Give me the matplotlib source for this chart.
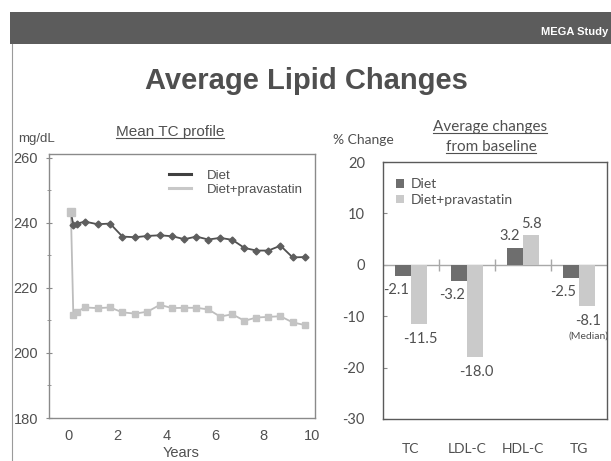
import numpy as np
import matplotlib
matplotlib.use('Agg')
import matplotlib.pyplot as plt
from matplotlib.lines import Line2D
from matplotlib.patches import Rectangle

plt.rcParams['axes.unicode_minus'] = False

# ---------------- data ----------------
years = [0.08, 0.18, 0.33, 0.66, 1.18, 1.69, 2.20, 2.72, 3.23, 3.74, 4.25,
         4.75, 5.24, 5.73, 6.22, 6.72, 7.22, 7.71, 8.20, 8.70, 9.20, 9.70]
tc_diet = [243.4, 239.3, 239.8, 240.4, 239.6, 239.8, 235.8, 235.6, 236.0, 236.2, 235.9,
           235.0, 235.8, 234.9, 235.4, 234.8, 232.3, 231.5, 231.5, 233.0, 229.4, 229.5]
tc_prava = [243.4, 211.7, 212.7, 214.0, 213.8, 214.0, 212.5, 212.1, 212.7, 214.8, 213.8,
            213.9, 213.9, 213.4, 211.2, 211.9, 209.9, 210.9, 211.1, 211.3, 209.4, 208.6]
series_names = ['Diet', 'Diet+pravastatin']
year_ticks = [0, 2, 4, 6, 8, 10]
mg_ticks = [180, 200, 220, 240, 260]

lipids = ['TC', 'LDL-C', 'HDL-C', 'TG']
chg_diet = [-2.1, -3.2, 3.2, -2.5]
chg_prava = [-11.5, -18.0, 5.8, -8.1]
pct_ticks = [-30, -20, -10, 0, 10, 20]

# ---------------- figure ----------------
W, H = 611, 461
fig = plt.figure(figsize=(W / 100, H / 100), dpi=100)
fig.patch.set_facecolor('white')

def fx(px):
    return px / W

def fy(py):
    return 1 - py / H

# banner and slide border
fig.add_artist(Rectangle((fx(10), fy(44)), fx(601), 32 / H, transform=fig.transFigure,
                         facecolor='#5c5c5c', edgecolor='none'))
fig.add_artist(Line2D([fx(11.5), fx(11.5)], [fy(44), 0], transform=fig.transFigure,
                      color='#9a9a9a', lw=0.8))
fig.text(fx(608), fy(32), 'MEGA Study', color='white', fontsize=8, fontweight='bold',
         ha='right', va='center', family='Liberation Sans')

fig.text(fx(306), fy(81), 'Average Lipid Changes', fontsize=21, fontweight='bold',
         color='#4f4f4f', ha='center', va='center', family='Liberation Sans')

DIET_LINE = '#505050'
PRAVA_LINE = '#bdbdbd'

# ---------------- left: mean TC profile ----------------
axL = fig.add_axes([fx(49), fy(418), fx(315 - 49), (418 - 154) / H])
axL.plot(years, tc_prava, color=PRAVA_LINE, lw=1.3, marker='s', ms=4.5,
         mfc='#c4c4c4', mec='#c4c4c4', zorder=2)
axL.plot(years, tc_diet, color=DIET_LINE, lw=1.3, marker='D', ms=3.5,
         mfc='#5e5e5e', mec='#5e5e5e', zorder=3)
axL.plot(years[:1], tc_prava[:1], linestyle='none', marker='s', ms=6,
         mfc='#c4c4c4', mec='#c4c4c4', zorder=4)
axL.set_xlim(-0.82, 10.12)
axL.set_ylim(180, 261.2)
axL.set_xticks(year_ticks)
axL.set_yticks(mg_ticks)
axL.set_yticks(np.arange(190, 260, 20), minor=True)
for s in axL.spines.values():
    s.set_color('#8a8a8a')
    s.set_linewidth(1.0)
axL.tick_params(axis='x', length=0, pad=8, labelsize=10.5, labelcolor='#505050')
axL.tick_params(axis='y', which='major', direction='inout', length=4, color='#8a8a8a',
                pad=6, labelsize=10.5, labelcolor='#505050')
axL.tick_params(axis='y', which='minor', direction='inout', length=3, color='#8a8a8a')
for lab in axL.get_xticklabels() + axL.get_yticklabels():
    lab.set_family('Liberation Sans')
legL = axL.legend([Line2D([], [], color='#404040', lw=2.2), Line2D([], [], color='#c8c8c8', lw=2.2)],
                  series_names, loc='upper right', bbox_to_anchor=(1.0, 0.985), frameon=False,
                  handlelength=1.7, handletextpad=1.2, labelspacing=0.1,
                  prop={'family': 'Liberation Sans', 'size': 9.5})
for t in legL.get_texts():
    t.set_color('#505050')

fig.text(fx(18), fy(139), 'mg/dL', fontsize=9.5, color='#505050', ha='left', va='center',
         family='Liberation Sans')
tL = fig.text(fx(170), fy(132), 'Mean TC profile', fontsize=11, color='#505050',
              ha='center', va='center', family='Liberation Sans')
fig.text(fx(181), fy(453), 'Years', fontsize=10.5, color='#505050', ha='center',
         va='center', family='Liberation Sans')

# ---------------- right: average changes ----------------
axR = fig.add_axes([fx(383), fy(419), fx(607 - 383), (419 - 162) / H])
x = np.arange(len(lipids)) + 0.5
bw = 0.285
DIET_BAR = '#6e6e6e'
PRAVA_BAR = '#cacaca'
bd = axR.bar(x - 0.15, chg_diet, width=bw, color=DIET_BAR, zorder=3, label=series_names[0])
bp = axR.bar(x + 0.15, chg_prava, width=bw, color=PRAVA_BAR, zorder=3, label=series_names[1])
axR.axhline(0, color='#a8a8a8', lw=1.0, zorder=2)
axR.plot(np.arange(1, len(lipids)), np.zeros(len(lipids) - 1), linestyle='none',
         marker='|', ms=8, mew=1.0, color='#a8a8a8', zorder=2)
axR.set_xlim(0, len(lipids))
axR.set_ylim(-30, 20)
axR.set_yticks(pct_ticks)
axR.set_xticks(x)
axR.set_xticklabels(lipids)
for s in axR.spines.values():
    s.set_color('#5a5a5a')
    s.set_linewidth(1.0)
axR.tick_params(axis='x', length=0, pad=17, labelsize=10, labelcolor='#505050')
axR.tick_params(axis='y', direction='in', length=3, color='#8a8a8a', pad=13,
                labelsize=10.5, labelcolor='#505050')
for lab in axR.get_xticklabels() + axR.get_yticklabels():
    lab.set_family('Lato')

lab_font = dict(family='Lato', size=10.5, color='#505050')
for xi, v in zip(x - 0.15, chg_diet):
    if v < 0:
        axR.annotate(f'{v:.1f}', (xi, v), xytext=(-7, -14), textcoords='offset pixels',
                     ha='center', va='center', **lab_font)
    else:
        axR.annotate(f'{v:.1f}', (xi, v), xytext=(-5, 12), textcoords='offset pixels',
                     ha='center', va='center', **lab_font)
for i, (xi, v) in enumerate(zip(x + 0.15, chg_prava)):
    if v < 0:
        axR.annotate(f'{v:.1f}', (xi, v), xytext=(1, -15), textcoords='offset pixels',
                     ha='center', va='center', **lab_font)
    else:
        axR.annotate(f'{v:.1f}', (xi, v), xytext=(0, 11), textcoords='offset pixels',
                     ha='center', va='center', **lab_font)
    if lipids[i] == 'TG':
        axR.annotate('(Median)', (xi, v), xytext=(1, -30), textcoords='offset pixels',
                     ha='center', va='center', family='Lato', size=7.5, color='#505050')

legR = axR.legend(loc='upper left', bbox_to_anchor=(0.0, 0.985), frameon=False,
                  handlelength=0.6, handleheight=0.6, handletextpad=0.5, labelspacing=0.25,
                  prop={'family': 'Lato', 'size': 10})
for t in legR.get_texts():
    t.set_color('#505050')

fig.text(fx(333), fy(140), '% Change', fontsize=10, color='#505050', ha='left',
         va='center', family='Lato')
tR1 = fig.text(fx(490), fy(127), 'Average changes', fontsize=11, color='#505050',
               ha='center', va='center', family='Lato')
tR2 = fig.text(fx(491), fy(147), 'from baseline', fontsize=11, color='#505050',
               ha='center', va='center', family='Lato')

# underlines
fig.canvas.draw()
inv = fig.transFigure.inverted()
for t in (tL, tR1, tR2):
    bb = t.get_window_extent()
    (x0, y0), (x1, _) = inv.transform([(bb.x0, bb.y0), (bb.x1, bb.y0)])
    fig.add_artist(Line2D([x0, x1], [y0 + 1 / H, y0 + 1 / H], transform=fig.transFigure,
                          color='#505050', lw=0.8))

fig.savefig('out.png', dpi=100)
